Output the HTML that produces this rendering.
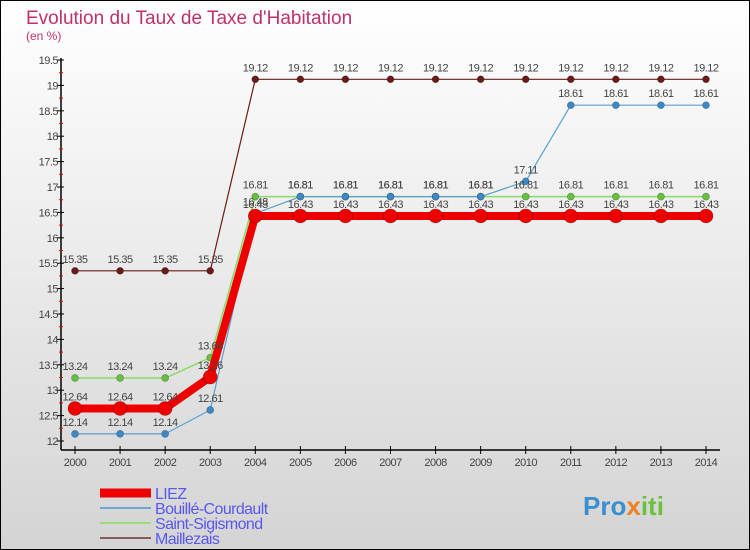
<!DOCTYPE html>
<html><head><meta charset="utf-8"><style>
body{margin:0;}
#c{width:750px;height:550px;position:relative;overflow:hidden;font-family:"Liberation Sans",sans-serif;}
svg text{font-family:"Liberation Sans",sans-serif;}
</style></head><body>
<div id="c">
<svg id="s" width="750" height="550" xmlns="http://www.w3.org/2000/svg">
<defs><linearGradient id="bg" x1="0" y1="0" x2="0" y2="1"><stop offset="0" stop-color="#ffffff"/><stop offset="1" stop-color="#d4d4d4"/></linearGradient></defs>
<rect x="0.5" y="0.5" width="749" height="549" fill="url(#bg)" stroke="#000"/>
<text x="26" y="24" font-size="19" fill="#c0306a">Evolution du Taux de Taxe d'Habitation</text>
<text x="26" y="40" font-size="12" fill="#c0306a">(en %)</text>
<g id="axes"></g><g id="series"></g><g id="labels"></g><g id="legend"></g>
<text x="583" y="515" font-size="26" font-weight="bold" fill="#3a8fd0">Pro<tspan fill="#f08020">x</tspan><tspan fill="#6cc040">iti</tspan></text>
</svg></div>
<script>
const years=[2000,2001,2002,2003,2004,2005,2006,2007,2008,2009,2010,2011,2012,2013,2014];
const liez=[12.64,12.64,12.64,13.26,16.43,16.43,16.43,16.43,16.43,16.43,16.43,16.43,16.43,16.43,16.43];
const bouille=[12.14,12.14,12.14,12.61,16.48,16.81,16.81,16.81,16.81,16.81,17.11,18.61,18.61,18.61,18.61];
const sigismond=[13.24,13.24,13.24,13.64,16.81,16.81,16.81,16.81,16.81,16.81,16.81,16.81,16.81,16.81,16.81];
const maillezais=[15.35,15.35,15.35,15.35,19.12,19.12,19.12,19.12,19.12,19.12,19.12,19.12,19.12,19.12,19.12];
const yTicks=[12,12.5,13,13.5,14,14.5,15,15.5,16,16.5,17,17.5,18,18.5,19,19.5];
const NS="http://www.w3.org/2000/svg";
const X=i=>75+i*(706-75)/14;
const Y=v=>441-(v-12)*(441-60)/7.5;
function mk(p,t,a){const e=document.createElementNS(NS,t);for(const k in a)e.setAttribute(k,a[k]);p.appendChild(e);return e;}
const ax=document.getElementById('axes');
let l=mk(ax,'line',{x1:61,y1:58,x2:61,y2:450,stroke:'#000','stroke-width':1.5});


l=mk(ax,'line',{x1:61,y1:450,x2:720,y2:450,stroke:'#000','stroke-width':1.5});


yTicks.forEach(v=>{mk(ax,'line',{x1:57,y1:Y(v),x2:64,y2:Y(v),stroke:'#000'});
 if(v<19.5)mk(ax,'line',{x1:59,y1:Y(v+0.25),x2:63,y2:Y(v+0.25),stroke:'#e00'});
 const t=mk(ax,'text',{x:58,y:Y(v)+4,'text-anchor':'end','font-size':11,fill:'#444','letter-spacing':'-0.5'});t.textContent=String(v);
 
 });
years.forEach((y,i)=>{mk(ax,'line',{x1:X(i),y1:446,x2:X(i),y2:454,stroke:'#000'});
 const t=mk(ax,'text',{x:X(i),y:466,'text-anchor':'middle','font-size':11,fill:'#444','letter-spacing':'-0.5'});t.textContent=y;
 
 });
const S=[{n:'maillezais',d:maillezais,c:'#6b1a1a',w:1.2,r:3.5,lab:'Maillezais'},
{n:'saint-sigismond',d:sigismond,c:'#88dd66',w:1.5,r:3.5,fc:'#66c040',lab:'Saint-Sigismond'},
{n:'bouille-courdault',d:bouille,c:'#5aa0d0',w:1.2,r:3.5,fc:'#3a8ac8',lab:'Bouillé-Courdault'},
{n:'liez',d:liez,c:'#ee0000',w:8,r:7,lab:'LIEZ'}];
const sg=document.getElementById('series'),lg=document.getElementById('labels');
S.forEach(s=>{const g=mk(sg,'g',{});
 
 
 const p=mk(g,'polyline',{points:s.d.map((v,i)=>X(i)+','+Y(v)).join(' '),fill:'none',stroke:s.c,'stroke-width':s.w,'stroke-linejoin':'round'});
 
 
 s.d.forEach((v,i)=>{const c=mk(g,'circle',{cx:X(i),cy:Y(v),r:s.r,fill:s.fc||s.c,stroke:'rgba(0,0,0,0.3)','stroke-width':0.7});
  
  
  const t=mk(lg,'text',{x:X(i),y:Y(v)-8,'text-anchor':'middle','font-size':11,fill:'#444','letter-spacing':'-0.5'});t.textContent=v.toFixed(2).replace(/0$/,'');
  
  });});
const L=document.getElementById('legend');
[['LIEZ','#ee0000',9],['Bouillé-Courdault','#6aa8d8',2],['Saint-Sigismond','#99dd77',2],['Maillezais','#8a5a5a',2]].forEach((e,i)=>{
 const y=493+i*15;
 const g=mk(L,'g',{});
 
 
 mk(g,'line',{x1:100,y1:y,x2:151,y2:y,stroke:e[1],'stroke-width':e[2]});
 const t=mk(g,'text',{x:155,y:y+6,'font-size':16,fill:'#5858ee','letter-spacing':'-0.6'});t.textContent=e[0];});
</script>
</body></html>
